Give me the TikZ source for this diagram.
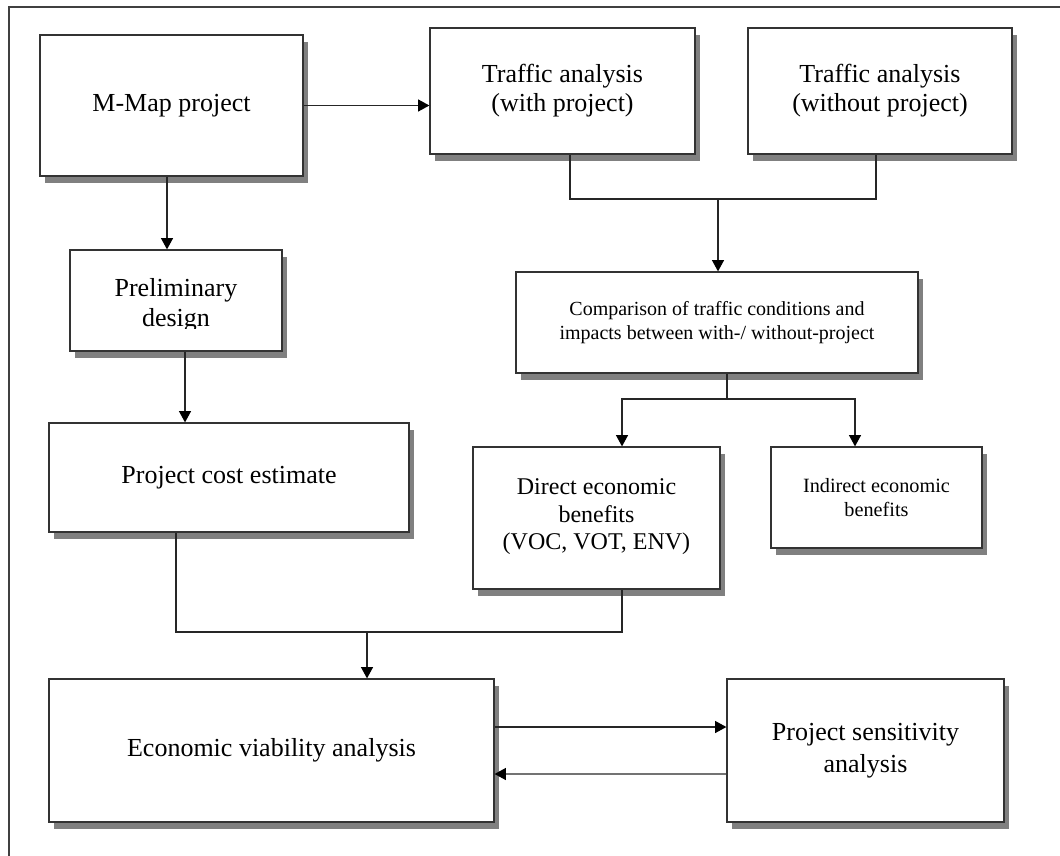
\documentclass[tikz,border=0pt]{standalone}
\usepackage{fontspec}
\setmainfont{Liberation Serif}
\usetikzlibrary{arrows.meta,shadows}

\begin{document}
\begin{tikzpicture}[x=0.75pt,y=-0.75pt,
  box/.style={draw=black!80, line width=0.9pt, fill=white, inner sep=0pt, align=center,
    drop shadow={shadow xshift=3.75pt, shadow yshift=-5pt, fill=black!50, opacity=1}},
  wh/.style 2 args={minimum width=#1*0.75pt, minimum height=#2*0.75pt},
  big/.style={font=\fontsize{19.5}{22.5}\selectfont},
  mid/.style={font=\fontsize{18}{20.6}\selectfont},
  small/.style={font=\fontsize{15.2}{18.4}\selectfont},
  link/.style={draw=black!85, line width=0.95pt},
  arr/.style={link, -{Triangle[length=8.5pt,width=9pt,color=black]}},
  frame/.style={draw=black!75, line width=0.9pt},
]
\useasboundingbox (0,0) rectangle (1060,856);

% page frame (top and left edges)
\draw[frame] (9,856) -- (9,7) -- (1060,7);

% boxes
\node[box, big, wh={263}{141}] (mmap) at (171.5,105.5) {M-Map project};
\node[box, font=\fontsize{19.5}{21.75}\selectfont, wh={265}{126}] (twith) at (562.5,91) {Traffic analysis\\(with project)};
\node[box, font=\fontsize{19.5}{21.75}\selectfont, wh={264}{126}] (twout) at (880,91) {Traffic analysis\\(without project)};
\node[box, font=\fontsize{15}{18}\selectfont, wh={402}{101}] (comp) at (717,322.5) {Comparison of traffic conditions and\\impacts between with-/ without-project};
\node[box, wh={212}{101}] (prelim) at (176,300.5) {};
\begin{scope}
  \clip (70,250) rectangle (282,328);
  \node[big, inner sep=0pt, align=center, anchor=south] (prelimtxt) at (176,332.7) {Preliminary\\design};
\end{scope}
\node[box, big, wh={360}{109}] (cost) at (229,477.5) {Project cost estimate};
\node[box, wh={247}{142}] (direct) at (596.5,518) {};
\node[mid, inner sep=0pt, align=center] (directtxt) at (596.5,517) {Direct economic\\benefits\\(VOC, VOT, ENV)};
\node[box, small, wh={211}{101}] (indirect) at (876.5,497.5) {Indirect economic\\benefits};
\node[box, big, wh={445}{143}] (eco) at (271.5,750.5) {Economic viability analysis};
\node[box, font=\fontsize{19.5}{24}\selectfont, wh={277}{143}] (sens) at (865.5,750.5) {Project sensitivity\\analysis};

% connector positions
\coordinate (c1) at (167,0);
\coordinate (c2) at (185,0);
\coordinate (bl) at (570,199);
\coordinate (br) at (876,199);
\coordinate (bm) at (718,199);
\coordinate (fk) at (727,399);
\coordinate (fl) at (622,399);
\coordinate (fr) at (855,399);
\coordinate (ml) at (176,632);
\coordinate (mr) at (622,632);
\coordinate (mm) at (367,632);
\coordinate (a1) at (0,727);
\coordinate (a2) at (0,774);

% connectors
\draw[arr] (mmap.east) -- (twith.west |- mmap.east);
\draw[arr] (mmap.south -| c1) -- (prelim.north -| c1);
\draw[arr] (prelim.south -| c2) -- (cost.north -| c2);
\draw[link] (twith.south -| bl) -- (bl) -- (br) -- (twout.south -| br);
\draw[arr] (bm) -- (comp.north -| bm);
\draw[link] (comp.south -| fk) -- (fk);
\draw[arr] (fk) -| (direct.north -| fl);
\draw[arr] (fk) -| (indirect.north -| fr);
\draw[link] (cost.south -| ml) -- (ml) -- (mr) -- (direct.south -| mr);
\draw[arr] (mm) -- (eco.north -| mm);
\draw[arr] (eco.east |- a1) -- (sens.west |- a1);
\draw[arr, draw=black!55] (sens.west |- a2) -- (eco.east |- a2);
\end{tikzpicture}
\end{document}
